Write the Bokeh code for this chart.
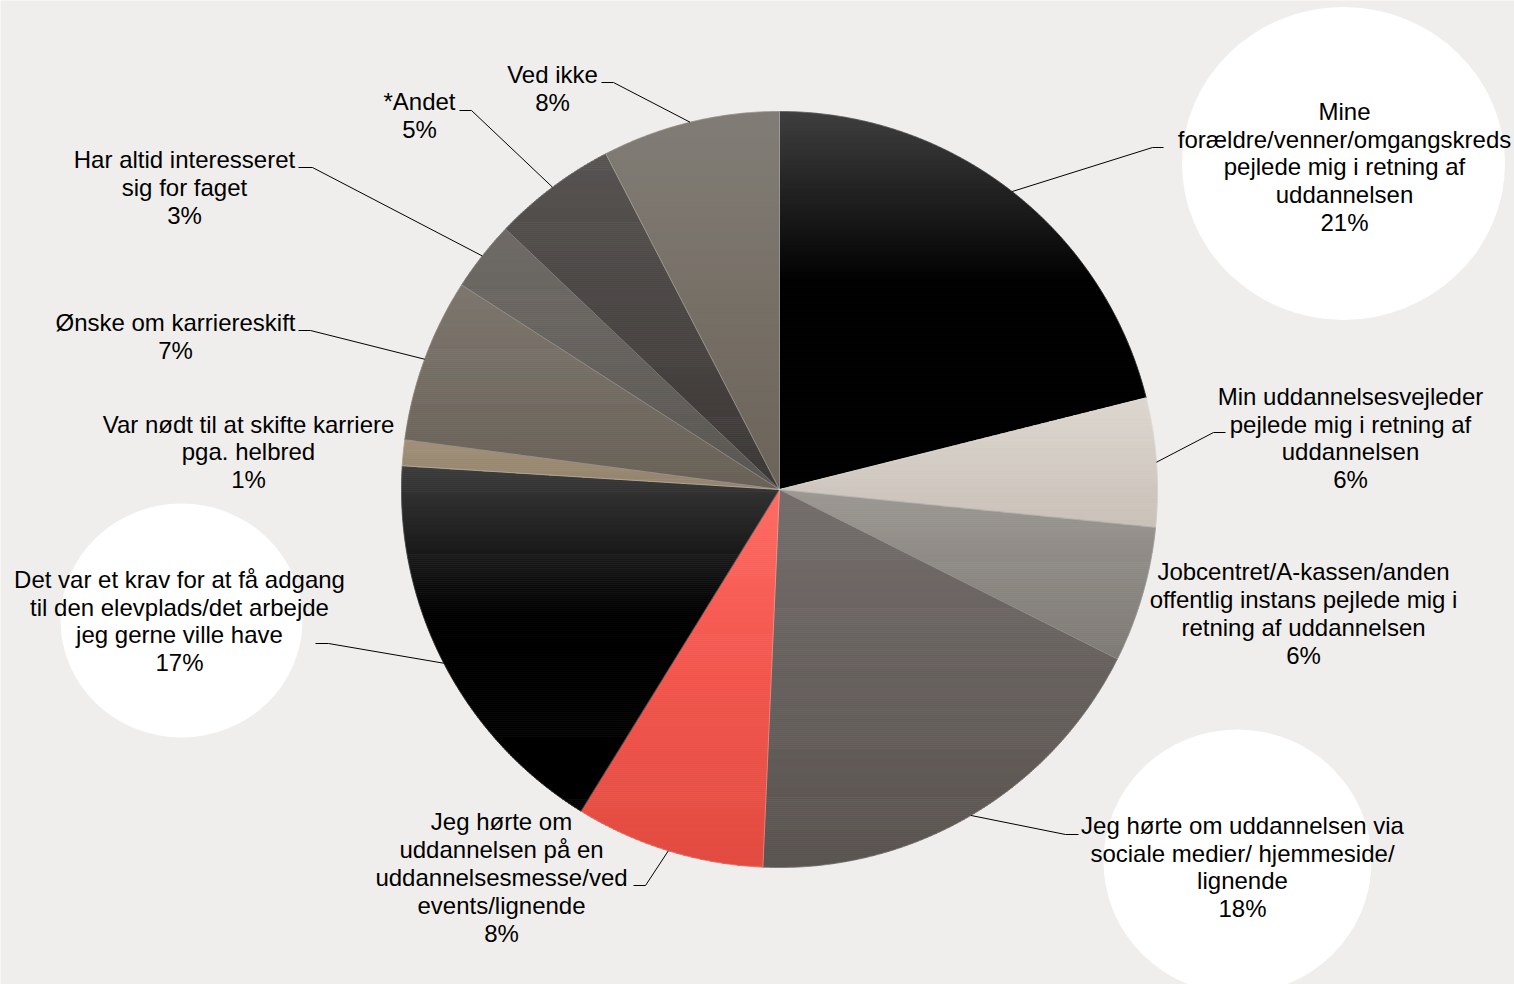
import math
from bokeh.plotting import figure
from bokeh.models import Range1d, ColumnDataSource
from bokeh.embed import file_html
from bokeh.resources import INLINE
from bokeh.core.properties import value

# ---------------- data ----------------
categories = [
    "Mine\nforældre/venner/omgangskreds\npejlede mig i retning af\nuddannelsen",
    "Min uddannelsesvejleder\npejlede mig i retning af\nuddannelsen",
    "Jobcentret/A-kassen/anden\noffentlig instans pejlede mig i\nretning af uddannelsen",
    "Jeg hørte om uddannelsen via\nsociale medier/ hjemmeside/\nlignende",
    "Jeg hørte om\nuddannelsen på en\nuddannelsesmesse/ved\nevents/lignende",
    "Det var et krav for at få adgang\ntil den elevplads/det arbejde\njeg gerne ville have",
    "Var nødt til at skifte karriere\npga. helbred",
    "Ønske om karriereskift",
    "Har altid interesseret\nsig for faget",
    "*Andet",
    "Ved ikke",
]
shares = [21.1, 5.5, 5.8, 18.3, 8.1, 17.2, 1.1, 7.0, 3.0, 5.3, 7.6]
pct_labels = ["21%", "6%", "6%", "18%", "8%", "17%", "1%", "7%", "3%", "5%", "8%"]

# ---------------- style / layout ----------------
BG = "#efeeec"
CX, CY, R = 779.0, 489.0, 378.0
# gradient stops per slice: (top, mid, bottom), mid position
GRAD = [
    ("#3e3e3e", "#000000", "#000000", 0.45),
    ("#ddd7d0", "#d3ccc4", "#c9c1b8", 0.5),
    ("#9c9892", "#8d8984", "#7e7a75", 0.5),
    ("#746e6c", "#67615e", "#5a5450", 0.5),
    ("#ff6b63", "#f2564d", "#e24c41", 0.5),
    ("#3c3c3c", "#000000", "#000000", 0.45),
    ("#a2907a", "#9a8a72", "#93846e", 0.5),
    ("#7d776f", "#736c63", "#6a6258", 0.5),
    ("#6f6b67", "#65615d", "#5a5652", 0.5),
    ("#585452", "#4a4644", "#3c3836", 0.5),
    ("#807c75", "#766f66", "#6b6358", 0.5),
]
LABEL_POS = [(1344, 166.5), (1350, 437.5), (1303, 613), (1242, 866.5), (501, 877),
             (179, 620.5), (248, 451.5), (175, 336), (184, 187), (419, 115), (552, 88)]
# leader: (elbow, end) or None
LEADERS = [((1152, 147), (1163, 147)), ((1213, 432), (1225, 432)), None,
           ((1065, 834), (1078, 834)), ((645, 885), (633, 885)),
           ((328, 643), (315, 643)), None, ((310, 330), (298, 330)),
           ((312, 167), (298, 167)), ((471, 110), (459, 110)), ((613, 82), (601, 82))]
BUBBLES = [(1343, 163, 323, 313), (181, 620, 242, 234), (1237, 861, 268, 264)]


def hex2rgb(h):
    h = h.lstrip("#")
    return tuple(int(h[i:i + 2], 16) for i in (0, 2, 4))


def rgb2hex(c):
    return "#%02x%02x%02x" % tuple(max(0, min(255, int(round(v)))) for v in c)


def grad_color(g, t):
    top, mid, bot, m = g
    if t <= m:
        a, b, u = hex2rgb(top), hex2rgb(mid), t / m
    else:
        a, b, u = hex2rgb(mid), hex2rgb(bot), (t - m) / (1 - m)
    return rgb2hex(tuple(a[i] + (b[i] - a[i]) * u for i in range(3)))


def clip(poly, yv, keep_above):
    out = []
    n = len(poly)
    for i in range(n):
        p1 = poly[i]
        p2 = poly[(i + 1) % n]
        in1 = p1[1] >= yv if keep_above else p1[1] <= yv
        in2 = p2[1] >= yv if keep_above else p2[1] <= yv
        if in1:
            out.append(p1)
        if in1 != in2:
            t = (yv - p1[1]) / (p2[1] - p1[1])
            out.append((p1[0] + t * (p2[0] - p1[0]), yv))
    return out


total = sum(shares)
p = figure(width=1514, height=984, x_range=Range1d(0, 1514), y_range=Range1d(984, 0),
           x_axis_type=None, y_axis_type=None, output_backend="svg",
           toolbar_location=None, min_border=0)
p.grid.visible = False
p.outline_line_color = None
p.background_fill_color = BG
p.border_fill_color = BG

# background bubbles
p.ellipse(x=[b[0] for b in BUBBLES], y=[b[1] for b in BUBBLES],
          width=[b[2] for b in BUBBLES], height=[b[3] for b in BUBBLES],
          fill_color="white", line_color=None)

band_xs, band_ys, band_cols = [], [], []
out_xs, out_ys = [], []
mids = []
cum = 0.0
for i, s in enumerate(shares):
    a0 = cum / total * 2 * math.pi
    a1 = (cum + s) / total * 2 * math.pi
    cum += s
    mids.append((a0 + a1) / 2)
    nseg = max(4, int((a1 - a0) / math.radians(0.4)))
    poly = [(CX, CY)]
    for k in range(nseg + 1):
        a = a0 + (a1 - a0) * k / nseg
        poly.append((CX + R * math.sin(a), CY - R * math.cos(a)))
    out_xs.append([q[0] for q in poly])
    out_ys.append([q[1] for q in poly])
    ymin = min(q[1] for q in poly)
    ymax = max(q[1] for q in poly)
    nb = max(2, int((ymax - ymin) / 2.0))
    for b in range(nb):
        y0 = ymin + (ymax - ymin) * b / nb
        y1 = ymin + (ymax - ymin) * (b + 1) / nb
        piece = clip(clip(poly, y0, True), y1, False)
        if len(piece) < 3:
            continue
        band_xs.append([q[0] for q in piece])
        band_ys.append([q[1] for q in piece])
        band_cols.append(grad_color(GRAD[i], (b + 0.5) / nb))

p.patches(xs=band_xs, ys=band_ys, fill_color=band_cols, line_color=band_cols, line_width=0.8)
p.patches(xs=out_xs, ys=out_ys, fill_alpha=0, line_color="white", line_alpha=0.15, line_width=1)

# leader lines
lx, ly = [], []
for i, ld in enumerate(LEADERS):
    if ld is None:
        continue
    a = mids[i]
    ex, ey = CX + R * math.sin(a), CY - R * math.cos(a)
    lx.append([ex, ld[0][0], ld[1][0]])
    ly.append([ey, ld[0][1], ld[1][1]])
p.multi_line(xs=lx, ys=ly, line_color="black", line_width=1)

# labels
src = ColumnDataSource(dict(
    x=[q[0] for q in LABEL_POS], y=[q[1] for q in LABEL_POS],
    t=[c + "\n" + pc for c, pc in zip(categories, pct_labels)]))
p.text(x="x", y="y", text="t", source=src, text_align="center", text_baseline="middle",
       text_font=value("Liberation Sans"), text_font_size="24px", text_line_height=1.03,
       text_color="black")

open("out.html", "w").write(file_html(p, INLINE))
